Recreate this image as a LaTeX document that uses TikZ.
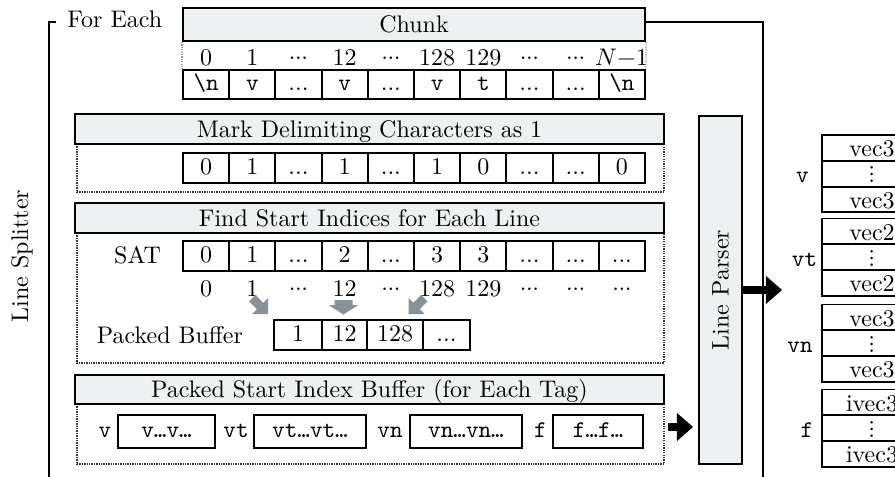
\documentclass[tikz,border=0pt]{standalone}
\usepackage{unicode-math}
\usetikzlibrary{arrows.meta}
\definecolor{hdrfill}{HTML}{EEF1F1}
\definecolor{arrowgray}{HTML}{8A9097}
\def\PX{0.41667pt}
% low and centred runs of dots used in the cells and index rows
\newcommand\tdots{...}
\newcommand\cdt{\raisebox{0.21em}{.\kern-0.02em.\kern-0.02em.}}
\tikzset{
  hdr/.style={draw, line width=0.8pt, fill=hdrfill, inner sep=0pt,
    text height=7.2pt, text depth=0.2pt},
  cell/.style={draw, line width=0.8pt, inner sep=0pt,
    minimum width=46.2*\PX, minimum height=29.5*\PX,
    text height=1.5ex, text depth=.25ex},
  tagbox/.style={draw, line width=0.8pt, inner sep=0pt,
    minimum height=33*\PX, text height=1.5ex, text depth=.25ex, font=\ttfamily},
  taglab/.style={inner sep=0pt, text height=1.5ex, text depth=.25ex, font=\ttfamily},
  stackrow/.style={draw, line width=0.8pt, inner sep=0pt,
    minimum width=100*\PX, minimum height=25.8*\PX,
    text height=8.2pt, text depth=0.8pt},
  idx/.style={anchor=base, inner sep=0pt},
  dotbox/.style={draw=black!80, line width=0.45pt, dash pattern=on 0.55pt off 0.45pt},
  guide/.style={draw=black!40, line width=0.5pt, dash pattern=on 0.55pt off 0.45pt},
  heavy/.style={line width=1.2pt},
  bigarrow/.style={line width=3.33pt,
    -{Triangle[length=6.67pt 0 0, width=11.67pt 0 0, line width=0pt]}},
  gray arrow/.style={fill=arrowgray},
}
\begin{document}
\begin{tikzpicture}[x=0.41667pt, y=-0.41667pt]
\useasboundingbox (0,0) rectangle (895,477);
\clip (0,0) rectangle (895,477);

% ---- outer loop of the line splitter ----
\draw[heavy] (56,22) -- (49,22) -- (49,490);
\node[anchor=base west, inner sep=0pt] (foreach) at (67,28) {For Each};
\node[rotate=90, inner sep=0pt] (splitter) at (22,256) {Line Splitter};

% ---- chunk ----
\node[hdr, minimum width=462*\PX, minimum height=33*\PX] (chunk) at (414,24.5) {Chunk};
\foreach \lab [count=\i] in {0,1,\cdt,12,\cdt,128,129,\cdt,\cdt,$N{-}1$}
  \node[idx] (ci\i) at ({183+46.2*(\i-0.5)},65) {\lab};
\foreach \lab [count=\i] in {{\texttt{\textbackslash n}},{\texttt{v}},\tdots,{\texttt{v}},\tdots,{\texttt{v}},{\texttt{t}},\tdots,\tdots,{\texttt{\textbackslash n}}}
  \node[cell] (cc\i) at ({183+46.2*(\i-0.5)},84.5) {\lab};
\draw[guide] (chunk.south west) -- (cc1.north west);
\draw[guide] (chunk.south east) -- (cc10.north east);

% ---- mark delimiting characters ----
\draw[dotbox] (77,144) -- (77,192) -- (664,192) -- (664,144);
\node[hdr, minimum width=589*\PX, minimum height=30*\PX] (markhdr) at (369.5,129) {Mark Delimiting Characters as 1};
\foreach \lab [count=\i] in {0,1,\tdots,1,\tdots,1,0,\tdots,\tdots,0}
  \node[cell, minimum height=30*\PX] (mc\i) at ({183+46.2*(\i-0.5)},168) {\lab};

% ---- find start indices ----
\draw[dotbox] (77,233) -- (77,363) -- (664,363) -- (664,233);
\node[hdr, minimum width=589*\PX, minimum height=30*\PX] (findhdr) at (369.5,218) {Find Start Indices for Each Line};
\node[idx] (satlab) at (137.5,263) {SAT};
\foreach \lab [count=\i] in {0,1,\tdots,2,\tdots,3,3,\tdots,\tdots,\tdots}
  \node[cell, minimum height=30*\PX] (sc\i) at ({183+46.2*(\i-0.5)},256) {\lab};
\foreach \lab [count=\i] in {0,1,\cdt,12,\cdt,128,129,\cdt,\cdt,\cdt}
  \node[idx] (si\i) at ({183+46.2*(\i-0.5)},296) {\lab};
\node[idx] (pblab) at (170,343) {Packed Buffer};
\node[cell, minimum width=48*\PX, minimum height=30*\PX] (pb1) at (298,335) {1};
\node[cell, minimum width=45*\PX, minimum height=30*\PX] (pb2) at (344.5,335) {12};
\node[cell, minimum width=56*\PX, minimum height=30*\PX] (pb3) at (395,335) {128};
\node[cell, minimum width=47*\PX, minimum height=30*\PX] (pb4) at (446.5,335) {\tdots};
% block arrows from the start indices into the packed buffer
\fill[gray arrow] (268,314) -- (268,298) -- (263.2,302.8) -- (255.4,295)
  -- (249,301.4) -- (256.8,309.2) -- (252,314) -- cycle;
\fill[gray arrow] (334.5,300) -- (352.5,300) -- (352.5,305) -- (358.5,305)
  -- (343.5,314.5) -- (328.5,305) -- (334.5,305) -- cycle;
\fill[gray arrow] (408.5,314) -- (408.5,298) -- (413.3,302.8) -- (421.1,295)
  -- (427.5,301.4) -- (419.7,309.2) -- (424.5,314) -- cycle;

% ---- packed start index buffer per tag ----
\draw[dotbox] (77,404) -- (77,464) -- (664,464) -- (664,404);
\node[hdr, minimum width=589*\PX, minimum height=29*\PX] (pkhdr) at (369.5,389.5) {Packed Start Index Buffer (for Each Tag)};
\node[taglab] (tl1) at (105,431.5) {v};
\node[tagbox, minimum width=97*\PX] (tb1) at (166.5,431.5) {v\ldots v\ldots};
\node[taglab] (tl2) at (236,431.5) {vt};
\node[tagbox, minimum width=112*\PX] (tb2) at (310,431.5) {vt\ldots vt\ldots};
\node[taglab] (tl3) at (390,431.5) {vn};
\node[tagbox, minimum width=112*\PX] (tb3) at (466,431.5) {vn\ldots vn\ldots};
\node[taglab] (tl4) at (540.5,431.5) {f};
\node[tagbox, minimum width=90*\PX] (tb4) at (598,431.5) {f\ldots f\ldots};

% ---- line parser ----
\coordinate (inA) at (668,427);
\coordinate (inB) at (693,427);
\draw[bigarrow] (inA) -- (inB);
\node[draw, line width=0.8pt, fill=hdrfill, inner sep=0pt,
  minimum width=43*\PX, minimum height=348*\PX] (lp) at (720.5,290) {};
\node[rotate=90, inner sep=0pt] (lptext) at (lp.center) {Line Parser};

% chunk bus to the parser side
\coordinate (bus) at (763,22);
\draw[heavy] (chunk.east |- bus) -- (bus) -- (bus |- 0,490);

\coordinate (outtip) at (782,290);
\draw[bigarrow] (lp.east) -- (outtip);

% ---- parsed output buffers ----
\foreach \top/\lab/\vname/\lx [count=\k] in {135/v/vec3/802.5, 218.5/vt/vec2/804.5, 304.5/vn/vec3/800, 389.5/f/ivec3/807}{
  \node[stackrow] (st\k-a) at (872,\top+12.9) {\vname};
  \node[stackrow, text height=6pt, text depth=0pt] (st\k-b) at (872,\top+38.7) {$\vdots$};
  \node[stackrow] (st\k-c) at (872,\top+64.5) {\vname};
  \node[anchor=base, inner sep=0pt, font=\ttfamily] (sl\k) at (\lx,\top+47.6) {\lab};
}
\end{tikzpicture}
\end{document}
